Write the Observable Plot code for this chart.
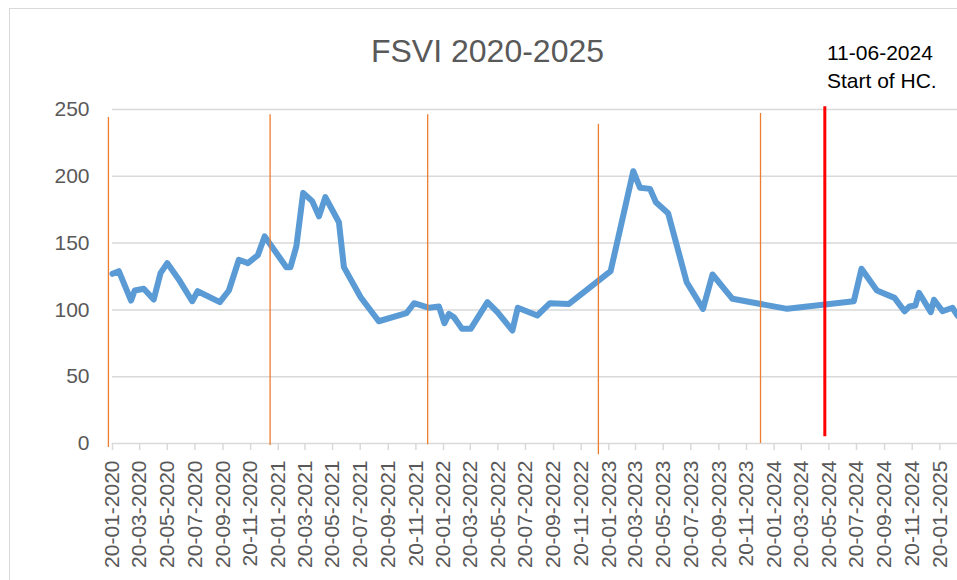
<!DOCTYPE html>
<html>
<head>
<meta charset="utf-8">
<script src="https://cdn.jsdelivr.net/npm/d3@7"></script>
<script src="https://cdn.jsdelivr.net/npm/@observablehq/plot@0.6"></script>
<style>
  body { margin: 0; background: #fff; font-family: "Liberation Sans", Arial, sans-serif; }
  #wrap { position: relative; width: 957px; height: 580px; overflow: hidden; background: #fff; }
  #frame { position: absolute; left: 9px; top: 8px; width: 2000px; height: 2000px;
           border-left: 1px solid #d9d9d9; border-top: 1px solid #d9d9d9; }
  #chart { position: absolute; left: 0; top: 0; }
  #title { position: absolute; left: 0; width: 975px; top: 35px; text-align: center;
           font-size: 32px; line-height: 32px; color: #595959; }
  .note { position: absolute; left: 827px; font-size: 21px; line-height: 21px; color: #000; white-space: nowrap; }
</style>
</head>
<body>
<div id="wrap">
  <div id="frame"></div>
  <div id="chart"></div>
  <div id="title">FSVI 2020-2025</div>
  <div class="note" style="top:42px">11-06-2024</div>
  <div class="note" style="top:70px">Start of HC.</div>
</div>
<script>
// ---- data ----
const dates = [
  "2020-01-20","2020-02-03","2020-03-01","2020-03-09","2020-03-29","2020-04-20","2020-05-05","2020-05-20",
  "2020-06-14","2020-07-14","2020-07-26","2020-09-13","2020-10-03","2020-10-25","2020-11-14","2020-12-06",
  "2020-12-21","2021-02-07","2021-02-16","2021-03-01","2021-03-16","2021-04-05","2021-04-20","2021-05-04",
  "2021-06-03","2021-06-14","2021-07-21","2021-08-30","2021-10-30","2021-11-16","2021-12-19","2022-01-10",
  "2022-01-22","2022-02-01","2022-02-12","2022-03-02","2022-03-21","2022-04-27","2022-05-19","2022-06-21",
  "2022-07-03","2022-08-15","2022-09-12","2022-10-24","2023-01-24","2023-03-15","2023-03-30","2023-04-21",
  "2023-05-04","2023-05-31","2023-07-11","2023-08-16","2023-09-06","2023-10-20","2024-02-18","2024-07-14",
  "2024-07-31","2024-09-03","2024-10-12","2024-11-03","2024-11-14","2024-11-27","2024-12-05","2024-12-31",
  "2025-01-07","2025-01-26","2025-02-17","2025-02-28"
];
const fsvi = [
  127, 129, 107, 114.5, 115.8, 107.8, 127.5, 135,
  123, 106.5, 114, 105.8, 114.5, 137.5, 135, 141,
  155, 132, 132, 147.5, 187.6, 181.4, 170, 184.4,
  165.6, 132, 109.5, 91.5, 97.5, 105, 101.6, 102.5,
  90, 97, 94.5, 85.8, 85.8, 105.8, 98.3, 84.6,
  101.6, 95.8, 105, 104.5, 129, 203.8, 191.4, 190.6,
  180.6, 172.4, 120.7, 100.8, 126.5, 108.3, 100.8, 106.5,
  130.8, 114.5, 109, 99, 102.5, 103.3, 112.8, 98.3,
  107.6, 99, 101.6, 95.8
];
// thin orange year separators (hand-drawn in the original)
const yearMarkerDates  = ["2020-01-11","2021-01-02","2021-12-16","2022-12-28","2023-12-21"];
const yearMarkerTop    = [244, 246, 246, 239, 247];
const yearMarkerBottom = [-3, -1.5, -1, -8.5, 0];
// red "Start of HC." marker
const hcDates  = ["2024-05-11"];
const hcTop    = [252];
const hcBottom = [5];
// axes
const yTicks = [0, 50, 100, 150, 200, 250];
const xTickDates = [
  "2020-01-20","2020-03-20","2020-05-20","2020-07-20","2020-09-20","2020-11-20",
  "2021-01-20","2021-03-20","2021-05-20","2021-07-20","2021-09-20","2021-11-20",
  "2022-01-20","2022-03-20","2022-05-20","2022-07-20","2022-09-20","2022-11-20",
  "2023-01-20","2023-03-20","2023-05-20","2023-07-20","2023-09-20","2023-11-20",
  "2024-01-20","2024-03-20","2024-05-20","2024-07-20","2024-09-20","2024-11-20",
  "2025-01-20"
];
const xDomain = ["2020-01-20", "2025-02-28"];

// ---- build tables ----
const parse = d3.utcParse("%Y-%m-%d");
const series = dates.map((d, i) => ({date: parse(d), value: fsvi[i]}));
const yearMarkers = yearMarkerDates.map((d, i) => ({date: parse(d), top: yearMarkerTop[i], bottom: yearMarkerBottom[i]}));
const hcMarkers = hcDates.map((d, i) => ({date: parse(d), top: hcTop[i], bottom: hcBottom[i]}));
const xTicks = xTickDates.map(parse);
const fmt = d3.utcFormat("%d-%m-%Y");

const chart = Plot.plot({
  width: 957,
  height: 580,
  marginLeft: 112,
  marginRight: 0,
  marginTop: 109,
  marginBottom: 137,
  style: {fontFamily: '"Liberation Sans", Arial, sans-serif', background: "transparent", overflow: "visible"},
  x: {type: "utc", domain: xDomain.map(parse)},
  y: {domain: [0, 250]},
  marks: [
    Plot.ruleY(yTicks, {stroke: "#d9d9d9", strokeWidth: 1.5}),
    Plot.axisY({ticks: yTicks, tickSize: 0, tickPadding: 23, fontSize: 21, fill: "#595959", label: null}),
    Plot.axisX({ticks: xTicks, tickFormat: fmt, tickRotate: -90, tickSize: 7, tickPadding: 10,
                stroke: "#d9d9d9", strokeWidth: 1.5, fontSize: 21, fill: "#595959", label: null}),
    Plot.line(series, {x: "date", y: "value", stroke: "#5B9BD5", strokeWidth: 6,
                       strokeLinejoin: "round", strokeLinecap: "round"}),
    Plot.ruleX(yearMarkers, {x: "date", y1: "bottom", y2: "top", stroke: "#ED7D31", strokeWidth: 1.3}),
    Plot.ruleX(hcMarkers, {x: "date", y1: "bottom", y2: "top", stroke: "#FF0000", strokeWidth: 3})
  ]
});
document.getElementById("chart").appendChild(chart);
</script>
</body>
</html>
